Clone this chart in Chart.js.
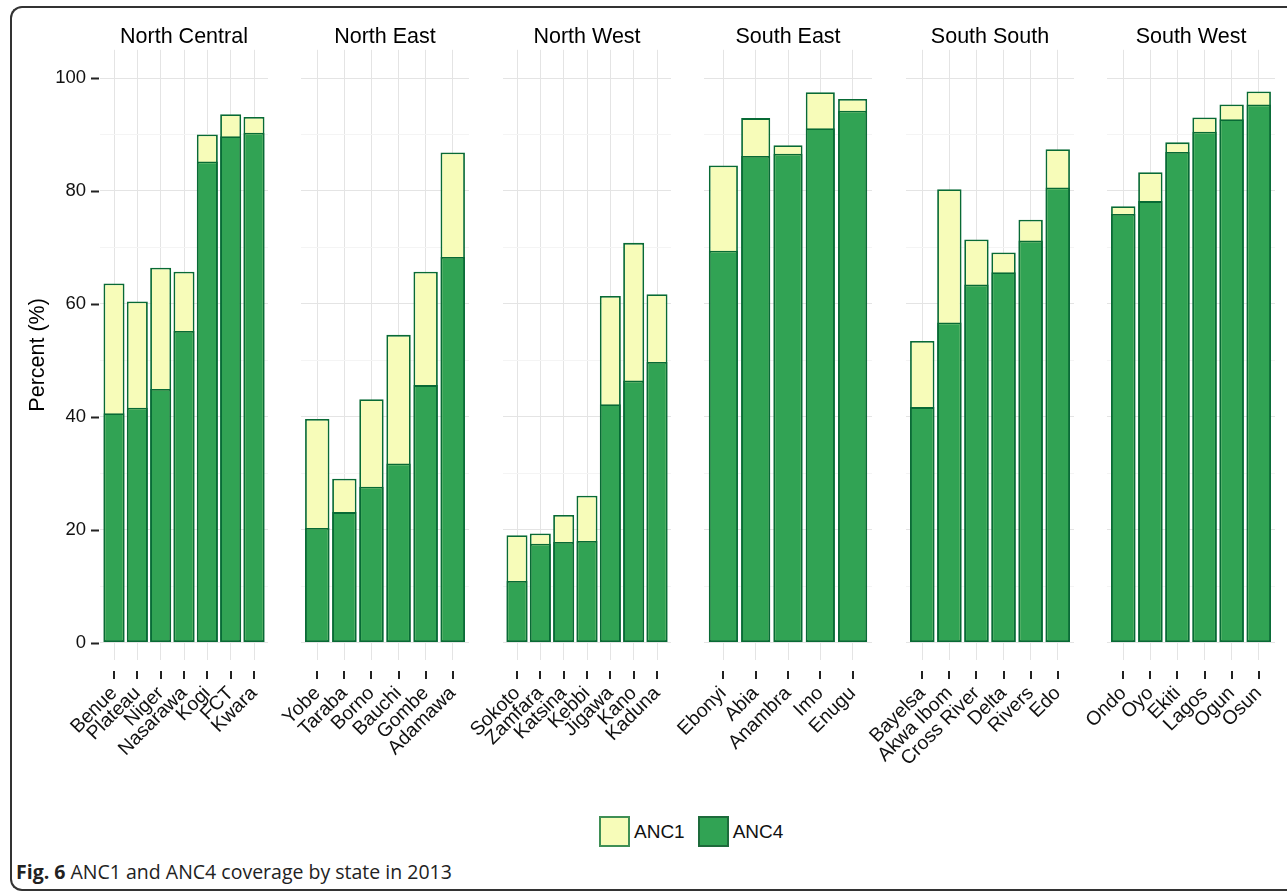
<!DOCTYPE html>
<html>
<head>
<meta charset="utf-8">
<script src="https://cdn.jsdelivr.net/npm/chart.js@4.4.1/dist/chart.umd.min.js"></script>
<style>
  html, body { margin: 0; padding: 0; background: #fff; }
  #wrap { position: relative; width: 1287px; height: 891px; overflow: hidden;
          font-family: "Liberation Sans", Arial, sans-serif; }
  #frame { position: absolute; left: 10px; top: 6px; width: 1320px; height: 881px;
           border: 2px solid #333; border-right: none; border-radius: 12px; }
  canvas { position: absolute; top: 0; }
  #legend { position: absolute; left: 599px; top: 816px; height: 31px; display: flex;
            align-items: center; font-size: 19px; color: #111; }
  #legend .box { width: 27px; height: 27px; border: 2px solid; margin-right: 4px; }
  #legend .lab { margin-right: 13px; }
  #caption { position: absolute; left: 16px; top: 861px; font-family: "Open Sans", sans-serif;
             font-size: 19.5px; line-height: 22px; color: #222; white-space: nowrap; }
</style>
</head>
<body>
<div id="wrap">
  <div id="frame"></div>
  <div id="legend"></div>
  <div id="caption"><b>Fig. 6</b> ANC1 and ANC4 coverage by state in 2013</div>
</div>
<script>
'use strict';

// regions (facet strips)
const regions = ['North Central', 'North East', 'North West', 'South East', 'South South', 'South West'];

const ncStates = ['Benue', 'Plateau', 'Niger', 'Nasarawa', 'Kogi', 'FCT', 'Kwara'];
const ncAnc1   = [63.6, 60.4, 66.4, 65.7, 90.0, 93.6, 93.1];
const ncAnc4   = [40.6, 41.6, 44.9, 55.2, 85.2, 89.7, 90.3];

const neStates = ['Yobe', 'Taraba', 'Borno', 'Bauchi', 'Gombe', 'Adamawa'];
const neAnc1   = [39.6, 29.0, 43.1, 54.5, 65.7, 86.8];
const neAnc4   = [20.3, 23.1, 27.6, 31.7, 45.6, 68.3];

const nwStates = ['Sokoto', 'Zamfara', 'Katsina', 'Kebbi', 'Jigawa', 'Kano', 'Kaduna'];
const nwAnc1   = [19.0, 19.3, 22.6, 26.0, 61.4, 70.8, 61.7];
const nwAnc4   = [10.9, 17.5, 17.8, 18.0, 42.2, 46.4, 49.7];

const seStates = ['Ebonyi', 'Abia', 'Anambra', 'Imo', 'Enugu'];
const seAnc1   = [84.5, 92.9, 88.1, 97.5, 96.3];
const seAnc4   = [69.4, 86.2, 86.6, 91.1, 94.2];

const ssStates = ['Bayelsa', 'Akwa Ibom', 'Cross River', 'Delta', 'Rivers', 'Edo'];
const ssAnc1   = [53.4, 80.3, 71.4, 69.1, 74.9, 87.4];
const ssAnc4   = [41.7, 56.7, 63.4, 65.6, 71.2, 80.6];

const swStates = ['Ondo', 'Oyo', 'Ekiti', 'Lagos', 'Ogun', 'Osun'];
const swAnc1   = [77.3, 83.3, 88.6, 93.0, 95.3, 97.6];
const swAnc4   = [75.9, 78.2, 86.9, 90.5, 92.7, 95.3];

const yTicks = [0, 10, 20, 30, 40, 50, 60, 70, 80, 90, 100];

const series = ['ANC1', 'ANC4'];
const FILL   = { ANC1: '#f7fcb9', ANC4: '#31a354' };
const EDGE   = '#086a35';

const panels = [
  [ncStates, ncAnc1, ncAnc4],
  [neStates, neAnc1, neAnc4],
  [nwStates, nwAnc1, nwAnc4],
  [seStates, seAnc1, seAnc4],
  [ssStates, ssAnc1, ssAnc4],
  [swStates, swAnc1, swAnc4],
];

// layout of the facet grid (px)
const PANEL_W = 168, AXIS_W = 100, RIGHT_PAD = 30, CANVAS_H = 820, PANEL_BOTTOM = 660;
const panelLeft = i => Math.round(100 + i * 201.4);

const FONT = '"Liberation Sans", Arial, sans-serif';

// ggplot-style detached tick marks
const tickMarks = {
  id: 'tickMarks',
  afterDraw(chart, args, opts) {
    const { ctx, chartArea, scales } = chart;
    ctx.save();
    ctx.strokeStyle = '#222';
    ctx.lineWidth = 2;
    ctx.beginPath();
    scales.x.ticks.forEach(t => {
      const px = Math.round(scales.x.getPixelForValue(t.value));
      ctx.moveTo(px, chartArea.bottom + 11);
      ctx.lineTo(px, chartArea.bottom + 19);
    });
    if (opts.yAxis) {
      scales.y.ticks.forEach(t => {
        if (t.value % 20) return;
        const py = Math.round(scales.y.getPixelForValue(t.value)) + 0.5;
        ctx.moveTo(chartArea.left - 9, py);
        ctx.lineTo(chartArea.left - 1, py);
      });
    }
    ctx.stroke();
    ctx.restore();
  }
};

function drawPanel(i) {
  const [states, anc1, anc4] = panels[i];
  const first = i === 0;
  const canvas = document.createElement('canvas');
  canvas.width = AXIS_W + PANEL_W + RIGHT_PAD;
  canvas.height = CANVAS_H;
  canvas.style.left = (panelLeft(i) - AXIS_W) + 'px';
  document.getElementById('wrap').appendChild(canvas);

  const mk = (name, vals, order) => ({
    label: name,
    data: vals.map((v, k) => ({ x: k, y: v })),
    backgroundColor: FILL[name],
    borderColor: EDGE,
    borderWidth: 1.8,
    borderSkipped: false,
    grouped: false,
    barPercentage: 0.9,
    categoryPercentage: 1,
    order,
  });

  new Chart(canvas, {
    type: 'bar',
    data: { datasets: [mk('ANC1', anc1, 1), mk('ANC4', anc4, 0)] },
    options: {
      responsive: false,
      animation: false,
      devicePixelRatio: 1,
      layout: { padding: { top: 0, right: RIGHT_PAD, bottom: 0, left: 0 } },
      plugins: {
        legend: { display: false },
        tooltip: { enabled: false },
        title: {
          display: true, text: regions[i], color: '#000', fullSize: false,
          font: { family: FONT, size: 21.5, weight: 'normal' },
          padding: { top: 24, bottom: 0 },
        },
        tickMarks: { yAxis: first },
      },
      scales: {
        x: {
          type: 'linear',
          offset: false,
          min: -0.6,
          max: states.length - 0.4,
          afterBuildTicks: s => { s.ticks = states.map((_, k) => ({ value: k })); },
          afterFit: s => { s.height = CANVAS_H - PANEL_BOTTOM; },
          border: { display: false },
          grid: { color: '#e4e4e4', lineWidth: 1, drawTicks: false, offset: false },
          ticks: {
            autoSkip: false, minRotation: 45, maxRotation: 45, padding: 22,
            color: '#111', font: { family: FONT, size: 19.5 },
            callback: v => states[v],
          },
        },
        y: {
          min: -3.1,
          max: 105,
          afterBuildTicks: s => { s.ticks = yTicks.map(v => ({ value: v })); },
          afterFit: s => { s.width = AXIS_W; },
          border: { display: false },
          grid: {
            drawTicks: false, lineWidth: 1,
            color: c => (c.tick && c.tick.value % 20 === 0) ? '#e4e4e4' : '#f4f4f4',
          },
          ticks: {
            display: first, padding: 14, color: '#111',
            font: { family: FONT, size: 18.5 },
            callback: v => (v % 20 === 0 ? v : ''),
          },
          title: {
            display: first, text: 'Percent (%)', color: '#000',
            font: { family: FONT, size: 21.5 },
            padding: { top: 25, bottom: 0 },
          },
        },
      },
    },
    plugins: [tickMarks],
  });
}

panels.forEach((_, i) => drawPanel(i));

// legend
const legend = document.getElementById('legend');
series.forEach(name => {
  const box = document.createElement('div');
  box.className = 'box';
  box.style.background = FILL[name];
  box.style.borderColor = name === 'ANC1' ? '#3f8f55' : '#1d6b3b';
  const lab = document.createElement('div');
  lab.className = 'lab';
  lab.textContent = name;
  legend.appendChild(box);
  legend.appendChild(lab);
});
</script>
</body>
</html>
